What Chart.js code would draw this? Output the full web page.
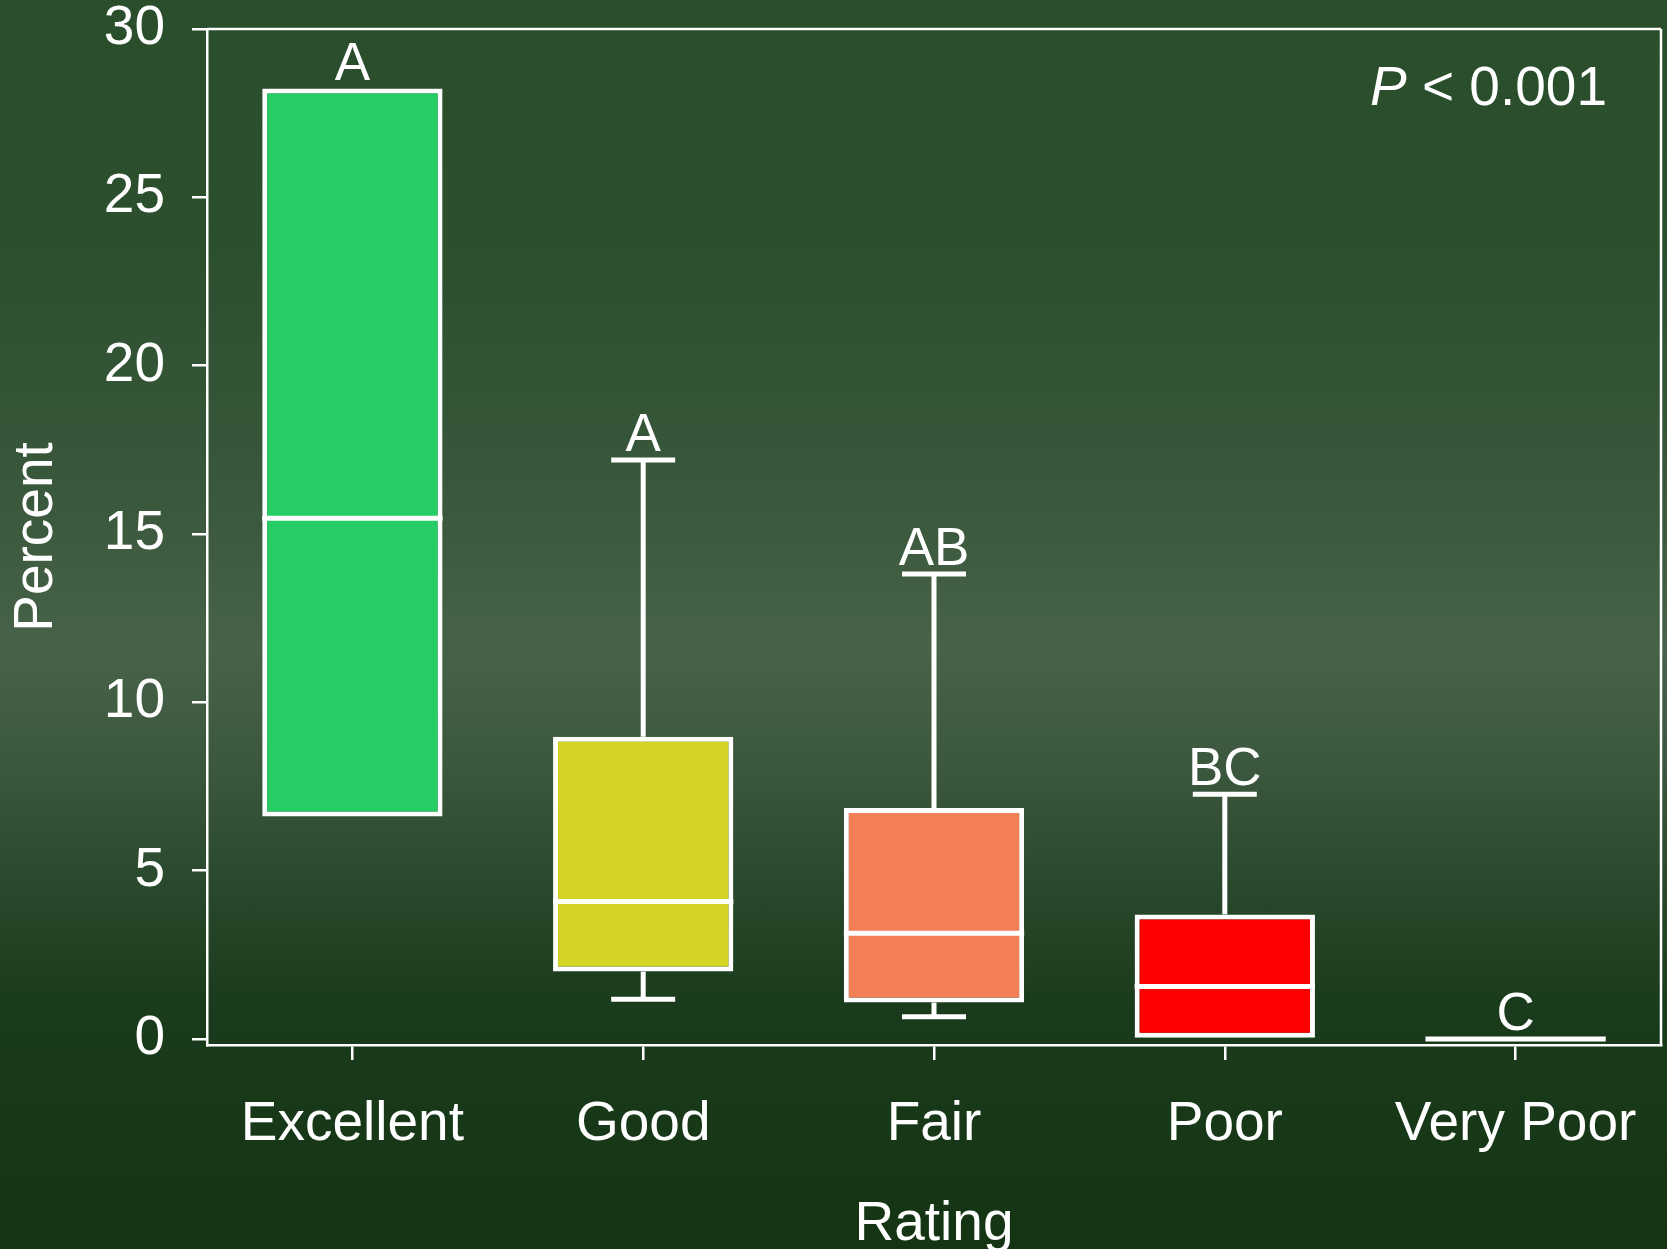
<!DOCTYPE html>
<html>
<head>
<meta charset="utf-8">
<script src="https://cdn.jsdelivr.net/npm/chart.js@4.4.1/dist/chart.umd.min.js"></script>
<style>
  html, body { margin: 0; padding: 0; }
  body {
    width: 1667px;
    height: 1249px;
    overflow: hidden;
    background: linear-gradient(to bottom,
      #2a4d2b 0%, #2c4f2e 20%, #3a583c 40%, #476248 52%,
      #3a563c 62%, #28472a 72%, #1b3c1c 80%, #143414 100%);
  }
</style>
</head>
<body>
<canvas id="chart" width="1667" height="1249"></canvas>
<script>
const categories = ['Excellent', 'Good', 'Fair', 'Poor', 'Very Poor'];
const whiskerLow = [6.61, 1.18, 0.66, 0, 0];
const boxLow = [6.61, 2.0, 1.08, 0, 0];
const medians = [15.47, 4.08, 3.14, 1.56, 0];
const boxHigh = [28.23, 8.98, 6.86, 3.70, 0];
const whiskerHigh = [28.23, 17.2, 13.81, 7.27, 0];
const groupLetters = ['A', 'A', 'AB', 'BC', 'C'];
const boxColors = ['#26cc64', '#d4d424', '#f27f55', '#ff0000', '#ff0000'];
const yTicks = [0, 5, 10, 15, 20, 25, 30];
const pValueText = '< 0.001';

const FONT = '"Liberation Sans", Arial, sans-serif';
Chart.defaults.font.family = FONT;

// medians, whiskers, letters, frame and P value
const boxExtras = {
  id: 'boxExtras',
  afterDatasetsDraw(chart) {
    const ctx = chart.ctx;
    const area = chart.chartArea;
    const x = chart.scales.x;
    const y = chart.scales.y;
    const bars = chart.getDatasetMeta(0).data;
    const step = x.getPixelForValue(1) - x.getPixelForValue(0);
    const capHalf = step * 0.11;

    function seg(x1, y1, x2, y2) {
      ctx.beginPath();
      ctx.moveTo(x1, y1);
      ctx.lineTo(x2, y2);
      ctx.stroke();
    }

    ctx.save();
    ctx.strokeStyle = '#ffffff';
    ctx.fillStyle = '#ffffff';
    ctx.lineWidth = 5;
    ctx.lineCap = 'butt';
    categories.forEach(function (c, i) {
      const cx = x.getPixelForValue(i);
      const half = bars[i].width / 2;
      const ym = y.getPixelForValue(medians[i]);
      seg(cx - half, ym, cx + half, ym);
      if (whiskerHigh[i] > boxHigh[i]) {
        const y1 = y.getPixelForValue(boxHigh[i]);
        const y2 = y.getPixelForValue(whiskerHigh[i]);
        seg(cx, y1, cx, y2);
        seg(cx - capHalf, y2, cx + capHalf, y2);
      }
      if (whiskerLow[i] < boxLow[i]) {
        const y1 = y.getPixelForValue(boxLow[i]);
        const y2 = y.getPixelForValue(whiskerLow[i]);
        seg(cx, y1, cx, y2);
        seg(cx - capHalf, y2, cx + capHalf, y2);
      }
      ctx.font = '53px ' + FONT;
      ctx.textAlign = 'center';
      ctx.textBaseline = 'alphabetic';
      ctx.fillText(groupLetters[i], cx, y.getPixelForValue(whiskerHigh[i]) - 9);
    });

    // top and right sides of the frame
    ctx.lineWidth = 2.5;
    seg(area.left, area.top, area.right, area.top);
    seg(area.right, area.top, area.right, area.bottom);

    // P value
    ctx.textAlign = 'right';
    ctx.font = '55px ' + FONT;
    const rx = area.right - 54;
    const by = area.top + 76;
    ctx.fillText(pValueText, rx, by);
    const w = ctx.measureText(' ' + pValueText).width;
    ctx.font = 'italic 55px ' + FONT;
    ctx.fillText('P', rx - w, by);
    ctx.restore();
  }
};

new Chart(document.getElementById('chart'), {
  type: 'bar',
  data: {
    labels: categories,
    datasets: [{
      data: categories.map(function (c, i) { return [boxLow[i], boxHigh[i]]; }),
      backgroundColor: boxColors,
      borderColor: '#ffffff',
      borderWidth: 5,
      borderSkipped: false,
      barPercentage: 0.62,
      categoryPercentage: 1
    }]
  },
  options: {
    responsive: false,
    animation: false,
    events: [],
    layout: { padding: { top: 29, right: 6, bottom: 0, left: 0 } },
    plugins: {
      legend: { display: false },
      tooltip: { enabled: false }
    },
    scales: {
      x: {
        offset: true,
        grid: { drawOnChartArea: false, offset: false, color: '#ffffff', lineWidth: 2.5, tickLength: 15 },
        border: { display: true, color: '#ffffff', width: 2.5 },
        ticks: {
          color: '#ffffff',
          font: { size: 55, lineHeight: 2.36 },
          padding: 0,
          maxRotation: 0,
          autoSkip: false
        },
        title: {
          display: true,
          text: 'Rating',
          color: '#ffffff',
          font: { size: 55, lineHeight: 1 },
          padding: { top: 0, bottom: -3 }
        },
        afterFit: function (scale) { scale.height = 204; }
      },
      y: {
        min: -0.18,
        max: 30,
        afterBuildTicks: function (scale) {
          scale.ticks = yTicks.map(function (v) { return { value: v }; });
        },
        grid: { drawOnChartArea: false, color: '#ffffff', lineWidth: 2.5, tickLength: 15 },
        border: { display: true, color: '#ffffff', width: 2.5 },
        ticks: {
          color: '#ffffff',
          font: { size: 55, lineHeight: 0.01 },
          padding: 27
        },
        title: {
          display: true,
          text: 'Percent',
          color: '#ffffff',
          font: { size: 55, lineHeight: 1 },
          padding: { top: 9, bottom: 0 }
        },
        afterFit: function (scale) { scale.width = 207; }
      }
    }
  },
  plugins: [boxExtras]
});
</script>
</body>
</html>
